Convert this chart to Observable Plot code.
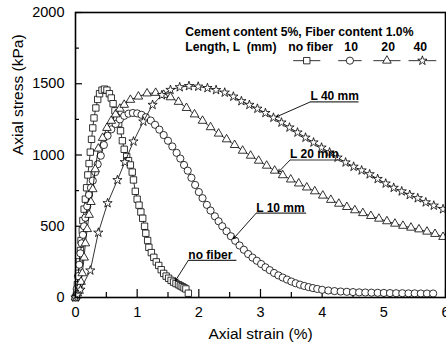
<!DOCTYPE html>
<html>
<head>
<meta charset="utf-8">
<script src="https://cdn.jsdelivr.net/npm/d3@7"></script>
<script src="https://cdn.jsdelivr.net/npm/@observablehq/plot@0.6"></script>
<style>
  html, body { margin: 0; padding: 0; background: #fff; }
  svg { display: block; }
</style>
</head>
<body>
<div id="chart"></div>
<script>
// ---------- data ----------
const noFiberStrain = [0.00,0.02,0.03,0.05,0.06,0.08,0.09,0.11,0.12,0.14,0.16,0.18,0.20,0.22,0.24,0.26,0.28,0.30,0.33,0.36,0.39,0.43,0.47,0.51,0.55,0.58,0.61,0.64,0.67,0.70,0.73,0.76,0.79,0.83,0.86,0.89,0.92,0.94,0.97,1.00,1.03,1.06,1.09,1.12,1.14,1.17,1.19,1.23,1.27,1.31,1.35,1.39,1.43,1.47,1.51,1.55,1.59,1.63,1.67,1.70,1.73,1.76,1.79,1.83];
const noFiberStress = [0,40,90,170,250,330,400,470,540,620,690,770,860,940,1020,1110,1190,1260,1330,1390,1430,1455,1462,1455,1430,1400,1360,1310,1260,1220,1170,1100,1040,990,960,930,880,825,745,690,648,600,556,500,451,400,352,315,282,250,225,195,169,150,135,120,108,98,90,82,76,68,60,30];

const l10Strain = [0,0.02,0.04,0.06,0.08,0.10,0.12,0.14,0.16,0.19,0.22,0.25,0.28,0.32,0.36,0.41,0.46,0.52,0.58,0.65,0.72,0.79,0.86,0.93,1.00,1.07,1.14,1.22,1.29,1.36,1.43,1.50,1.57,1.64,1.70,1.76,1.82,1.88,1.94,2.00,2.06,2.13,2.19,2.26,2.32,2.38,2.45,2.52,2.59,2.66,2.73,2.80,2.87,2.94,3.01,3.08,3.15,3.22,3.29,3.36,3.43,3.50,3.57,3.64,3.71,3.78,3.85,3.92,4.00,4.10,4.20,4.30,4.40,4.50,4.60,4.70,4.80,4.90,5.00,5.10,5.20,5.30,5.40,5.50,5.60,5.70,5.80];
const l10Stress = [0,60,150,230,310,380,440,500,560,640,720,770,820,880,935,995,1070,1135,1180,1218,1250,1275,1290,1295,1292,1282,1265,1242,1212,1178,1140,1100,1060,1015,975,930,890,840,790,740,697,650,610,570,535,500,465,430,398,365,335,305,280,258,235,212,192,172,155,140,126,112,100,90,81,73,66,60,54,49,45,42,40,38,36,35,34,33,32,31,30,30,29,29,28,28,28];

const l20Strain = [0,0.03,0.06,0.09,0.11,0.14,0.16,0.19,0.22,0.25,0.28,0.32,0.37,0.44,0.51,0.58,0.65,0.72,0.79,0.89,1.02,1.16,1.30,1.43,1.54,1.67,1.80,1.93,2.06,2.19,2.32,2.45,2.58,2.71,2.84,2.97,3.10,3.23,3.36,3.49,3.62,3.75,3.88,4.01,4.14,4.27,4.40,4.53,4.66,4.79,4.92,5.05,5.18,5.31,5.44,5.57,5.70,5.83,5.96];
const l20Stress = [0,30,70,110,170,280,380,480,580,670,760,900,1045,1120,1190,1240,1285,1325,1352,1387,1410,1432,1436,1422,1405,1373,1330,1285,1240,1195,1150,1110,1070,1030,995,960,925,890,858,828,800,772,745,715,685,658,635,612,592,572,553,535,518,503,490,478,462,446,425];

const l40Strain = [0,0.03,0.08,0.24,0.37,0.52,0.68,0.80,0.94,1.10,1.25,1.40,1.54,1.69,1.84,1.99,2.14,2.28,2.42,2.56,2.69,2.82,2.95,3.08,3.21,3.34,3.47,3.60,3.73,3.86,3.99,4.12,4.25,4.38,4.51,4.64,4.77,4.90,5.03,5.16,5.29,5.42,5.55,5.68,5.81,5.96];
const l40Stress = [0,20,55,190,455,662,824,950,1095,1235,1352,1420,1457,1476,1484,1480,1470,1456,1438,1410,1378,1352,1325,1295,1262,1228,1193,1158,1122,1088,1052,1018,982,948,918,892,865,832,800,770,745,720,697,668,645,620];

const seriesNames = ["no fiber", "10", "20", "40"];
const xMajor = [0, 1, 2, 3, 4, 5, 6];
const xMinor = [0.5, 1.5, 2.5, 3.5, 4.5, 5.5];
const yMajor = [0, 500, 1000, 1500, 2000];
const yMinor = [250, 750, 1250, 1750];

const legendTitle = "Cement content 5%, Fiber content 1.0%";
const legendLabel = "Length, L  (mm)";
const annotationLabels = ["L 40 mm", "L 20 mm", "L 10 mm", "no fiber"];

// ---------- build tables ----------
const strains = [noFiberStrain, l10Strain, l20Strain, l40Strain];
const stresses = [noFiberStress, l10Stress, l20Stress, l40Stress];
const symbols = ["square", "circle", "triangle", "star"];
const radii = [3.6, 3.6, 3.2, 2.9];
const tables = strains.map((xs, i) => xs.map((x, j) => ({x, y: stresses[i][j], s: seriesNames[i]})));

// legend placement (data units)
const legendTextX = 1.78, legendTitleY = 1866, legendLabelY = 1760, legendSymY = 1662;
const legendLabelStarts = [3.45, 4.36, 4.96, 5.48];
const legendSegs = [[3.53, 3.97], [4.26, 4.64], [4.83, 5.27], [5.40, 5.85]];

// annotations: underline start/end and arrow tip (data units)
const annot = [
  {label: annotationLabels[0], x1: 3.81, x2: 4.59, y: 1373, tx: 3.26, ty: 1268},
  {label: annotationLabels[1], x1: 3.48, x2: 4.29, y: 965, tx: 3.29, ty: 880},
  {label: annotationLabels[2], x1: 2.93, x2: 3.74, y: 592, tx: 2.56, ty: 412},
  {label: annotationLabels[3], x1: 1.83, x2: 2.61, y: 261, tx: 1.62, ty: 118}
];

const font = "'Liberation Sans', Arial, Helvetica, sans-serif";
const FH = 350 - 12 - 53, FW = 446 - 75 - 1;

const marks = [];
// inward ticks
marks.push(Plot.tickX(xMajor, {x: d => d, insetTop: FH - 8, stroke: "black", strokeWidth: 1.2}));
marks.push(Plot.tickX(xMinor, {x: d => d, insetTop: FH - 5, stroke: "black", strokeWidth: 1.2}));
marks.push(Plot.tickY(yMajor, {y: d => d, insetRight: FW - 7, stroke: "black", strokeWidth: 1.2}));
marks.push(Plot.tickY(yMinor, {y: d => d, insetRight: FW - 4, stroke: "black", strokeWidth: 1.2}));
// axes labels
marks.push(Plot.axisX(xMajor, {tickSize: 0, tickPadding: 9, fontSize: 14.5, label: null, tickFormat: d => String(d)}));
marks.push(Plot.axisY(yMajor, {tickSize: 0, tickPadding: 11, fontSize: 14.5, label: null, tickFormat: d => String(d)}));
marks.push(Plot.text(["Axial strain (%)"], {frameAnchor: "bottom", dy: 41, fontSize: 15.5, text: d => d}));
marks.push(Plot.text(["Axial stress (kPa)"], {frameAnchor: "left", dx: -57, rotate: -90, fontSize: 15.5, text: d => d}));

// series
tables.forEach((t, i) => {
  marks.push(Plot.line(t, {x: "x", y: "y", stroke: "black", strokeWidth: 0.8}));
  marks.push(Plot.dot(t, {x: "x", y: "y", symbol: () => symbols[i], r: radii[i], fill: "white", stroke: "black", strokeWidth: 0.8}));
});

// legend
marks.push(Plot.text([legendTitle], {x: legendTextX, y: legendTitleY, text: d => d, textAnchor: "start", fontWeight: "bold", fontSize: 12.2}));
marks.push(Plot.text([legendLabel], {x: legendTextX, y: legendLabelY, text: d => d, textAnchor: "start", fontWeight: "bold", fontSize: 12.2}));
marks.push(Plot.text(seriesNames, {x: (d, i) => legendLabelStarts[i], y: legendLabelY, text: d => d, textAnchor: "start", fontWeight: "bold", fontSize: 12.2}));
marks.push(Plot.link(legendSegs, {x1: d => d[0], x2: d => d[1], y1: legendSymY, y2: legendSymY, stroke: "black", strokeWidth: 0.8}));
legendSegs.forEach((seg, i) => {
  marks.push(Plot.dot([seg], {x: d => (d[0] + d[1]) / 2, y: legendSymY, symbol: () => symbols[i], r: radii[i], fill: "white", stroke: "black", strokeWidth: 0.8}));
});

// annotations
marks.push(Plot.link(annot, {x1: "x1", x2: "x2", y1: "y", y2: "y", stroke: "#333", strokeWidth: 1.2}));
marks.push(Plot.arrow(annot, {x1: "x1", y1: "y", x2: "tx", y2: "ty", stroke: "black", strokeWidth: 0.9, headLength: 5, bend: 0}));
marks.push(Plot.text(annot, {x: "x1", y: "y", text: "label", textAnchor: "start", lineAnchor: "bottom", dy: -1.5, fontWeight: "bold", fontSize: 12}));

marks.push(Plot.frame({stroke: "black", strokeWidth: 1.6}));

const chart = Plot.plot({
  width: 446, height: 350,
  marginLeft: 75, marginRight: 1, marginTop: 12, marginBottom: 53,
  style: {fontFamily: font, color: "black", background: "white", overflow: "visible"},
  x: {domain: [0, 6]},
  y: {domain: [0, 2000]},
  marks
});
document.getElementById("chart").appendChild(chart);
</script>
</body>
</html>
